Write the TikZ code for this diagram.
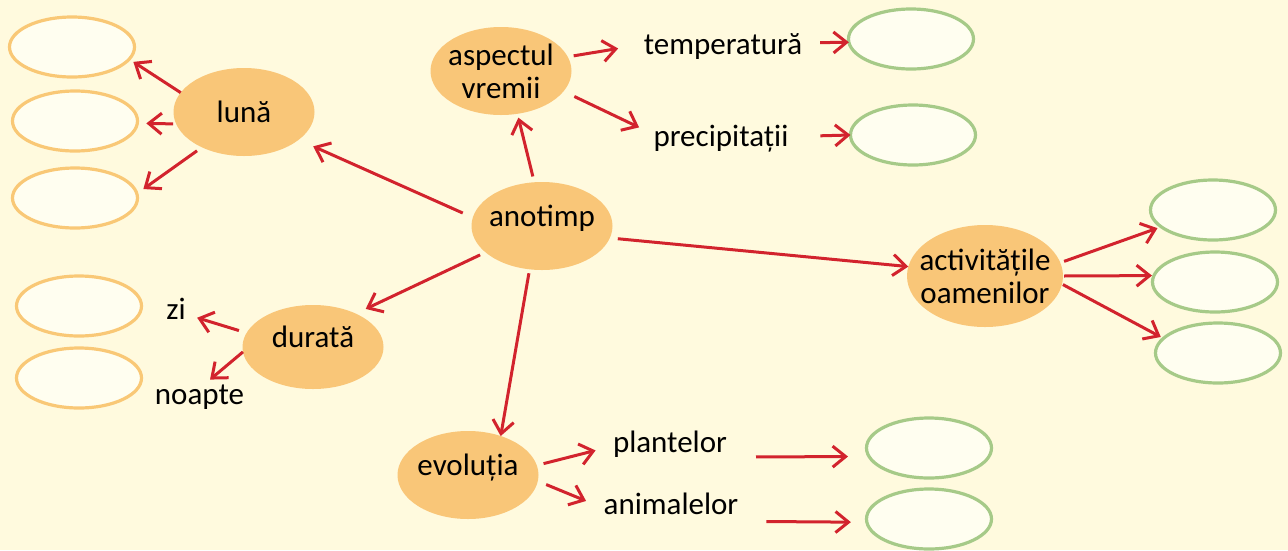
\documentclass[tikz,border=0pt]{standalone}
\usepackage{fontspec}
\setmainfont{Carlito}
\usepackage{xcolor}
\usetikzlibrary{arrows.meta, positioning, shapes.geometric}
\definecolor{paper}{RGB}{255,250,222}
\definecolor{topicfill}{RGB}{249,198,120}
\definecolor{orangeline}{RGB}{249,200,118}
\definecolor{greenline}{RGB}{166,202,136}
\definecolor{blankfill}{RGB}{255,254,240}
\definecolor{linkred}{RGB}{210,35,45}

\begin{document}
\begin{tikzpicture}[x=1pt, y=-1pt,
  font=\fontsize{31}{33}\selectfont,
  topic/.style={ellipse, fill=topicfill, inner sep=0pt, outer sep=0pt, minimum width=141pt, minimum height=88pt},
  single/.style={text height=12pt, text depth=12pt},
  blank/.style={ellipse, draw=#1, line width=3.2pt, fill=blankfill, inner sep=0pt, outer sep=0pt, minimum width=125pt, minimum height=60pt},
  word/.style={inner sep=0pt, outer sep=0pt, text height=23pt, text depth=8pt},
  link/.style={draw=linkred, line width=3pt, -{Straight Barb[length=13pt,width=21pt]}}
]
\fill[paper] (0,0) rectangle (1288,550);
\useasboundingbox (0,0) rectangle (1288,550);

% central topics
\node[topic, label={[single]center:anotimp}] (anotimp) at (542,226) {};
\node[topic, label={[text height=22pt, text depth=2pt]center:lună}] (luna) at (244,112) {};
\node[topic, label={[align=center]center:aspectul\\vremii}] (aspect) at (501,71) {};
\node[topic, minimum width=156pt, minimum height=102pt, label={[align=center]center:activitățile\\oamenilor}] (activ) at (985,276) {};
\node[topic, minimum height=84pt, label={[single]center:durată}] (durata) at (313,347) {};
\node[topic, label={[single]center:evoluția}] (evol) at (468,475) {};

% words
\node[word] (temp) at (723,47) {temperatură};
\node[word] (precip) at (721,139) {precipitații};
\node[word] (plante) at (670,445) {plantelor};
\node[word] (animale) at (671,507) {animalelor};
\node[word] (zi) at (176,312) {zi};
\node[word] (noapte) at (199.5,397) {noapte};

% empty answer ellipses
\node[blank=orangeline] (L1) at (72,47) {};
\node[blank=orangeline] (L2) at (75,121) {};
\node[blank=orangeline] (L3) at (75,198) {};
\node[blank=orangeline] (D1) at (79,306) {};
\node[blank=orangeline] (D2) at (79,378) {};
\node[blank=greenline] (T1) at (911,39) {};
\node[blank=greenline] (P1) at (913,135) {};
\node[blank=greenline] (A1) at (1213,210) {};
\node[blank=greenline] (A2) at (1215,282) {};
\node[blank=greenline] (A3) at (1218,353) {};
\node[blank=greenline] (V1) at (929,448) {};
\node[blank=greenline] (V2) at (929,519) {};

% arrows
\draw[link, shorten <=11pt, shorten >=16pt] (anotimp.173) -- (luna.-27);
\draw[link, shorten <=6pt, shorten >=4pt] (anotimp.100) -- (aspect.-69);
\draw[link, shorten <=8pt] (anotimp.-10) -- (activ.173);
\draw[link, shorten <=6pt, shorten >=11pt] (anotimp.205) -- (durata.38);
\draw[link, shorten <=4pt] (anotimp.254) -- (evol.50);
\draw[link, shorten >=5pt] (luna.163) -- (L1.-12);
\draw[link, shorten <=3pt, shorten >=9pt] (luna.190) -- (L2.-2);
\draw[link, shorten <=6pt, shorten >=8pt] (luna.220) -- (L3.4);
\draw[link, shorten <=6pt, shorten >=26pt] (aspect.12) -- (temp.178);
\draw[link, shorten <=12pt, shorten >=16pt] (aspect.-18) -- (precip.176);
\draw[link, shorten <=18pt] (temp.3) -- (T1.183);
\draw[link, shorten <=32pt] (precip.2) -- (P1.west);
\draw[link, shorten <=4pt, shorten >=4pt] (activ.10) -- (A1.198);
\draw[link, shorten <=1pt, shorten >=2pt] (activ.0) -- (A2.174);
\draw[link, shorten <=1pt, shorten >=3pt] (activ.-6) -- (A3.165);
\draw[link, shorten <=8pt, shorten >=12pt] (durata.168) -- (zi.-13);
\draw[link, shorten >=3pt] (durata.184) -- (noapte.62);
\draw[link, shorten <=7pt, shorten >=18pt] (evol.8) -- (plante.181);
\draw[link, shorten <=9pt, shorten >=19pt] (evol.-5) -- (animale.181);
\draw[link, shorten <=29pt, shorten >=21pt] (plante.-12) -- (V1.188.5);
\draw[link, shorten <=28pt, shorten >=16pt] (animale.-12.6) -- (V2.183.2);
\end{tikzpicture}
\end{document}
